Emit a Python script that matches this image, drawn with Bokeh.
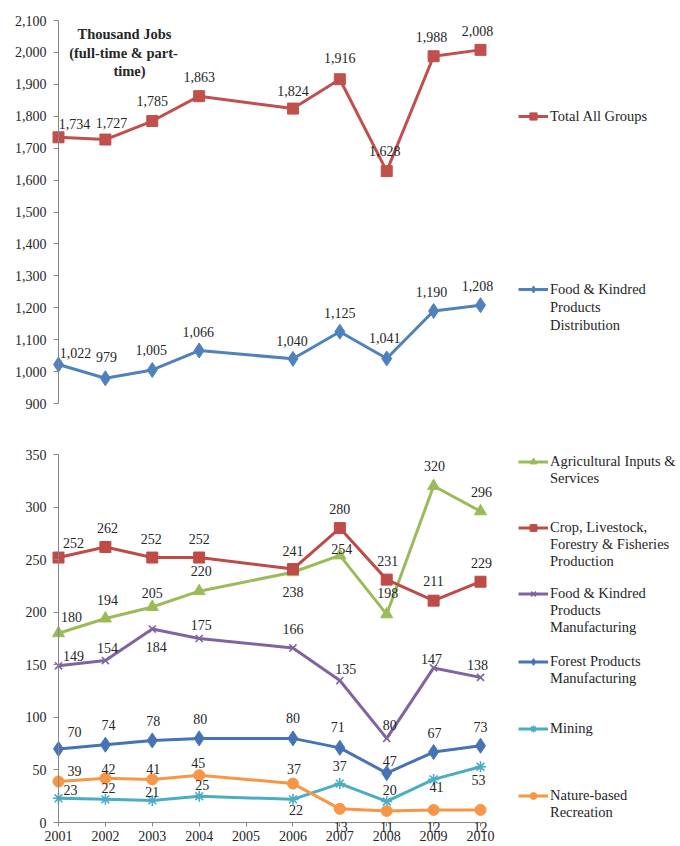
from bokeh.plotting import figure
from bokeh.models import (ColumnDataSource, LabelSet, Legend, LegendItem, Label,
                          FixedTicker, NumeralTickFormatter, Range1d)
from bokeh.layouts import column
from bokeh.embed import file_html
from bokeh.resources import INLINE

# ---------------- data ----------------
years = [2001, 2002, 2003, 2004, 2006, 2007, 2008, 2009, 2010]
x_ticks = [2001, 2002, 2003, 2004, 2005, 2006, 2007, 2008, 2009, 2010]

total_all = [1734, 1727, 1785, 1863, 1824, 1916, 1628, 1988, 2008]
food_dist = [1022, 979, 1005, 1066, 1040, 1125, 1041, 1190, 1208]

ag_inputs = [180, 194, 205, 220, 238, 254, 198, 320, 296]
crop_prod = [252, 262, 252, 252, 241, 280, 231, 211, 229]
food_mfg = [149, 154, 184, 175, 166, 135, 80, 147, 138]
forest_mfg = [70, 74, 78, 80, 80, 71, 47, 67, 73]
mining = [23, 22, 21, 25, 22, 37, 20, 41, 53]
nature_rec = [39, 42, 41, 45, 37, 13, 11, 12, 12]

top_ticks = list(range(900, 2101, 100))
bottom_ticks = list(range(0, 351, 50))

unit_note = ["Thousand Jobs", "(full-time & part-", "time)"]

# data-label placement (screen px offsets from the point, +y = up)
total_dx = [16, 6, 0, 0, 0, 0, -2, -2, -3]
total_dy = [13, 17, 20, 19, 18, 21, 20, 19, 19]
fdist_dx = [17, 1, -1, -1, -1, 0, -2, -2, -3]
fdist_dy = [12, 21, 20, 19, 18, 19, 20, 19, 19]
ag_dx = [13, 2, 0, 2, 0, 2, 1, 1, 1]
ag_dy = [16, 19, 14, 20, -20, 6, 21, 20, 19]
crop_dx = [15, 2, -1, 0, 0, 0, 1, 0, 1]
crop_dy = [15, 19, 19, 19, 18, 19, 19, 20, 19]
fmfg_dx = [15, 2, 4, 2, 0, 6, 3, -2, -3]
fmfg_dy = [10, 13, -18, 14, 19, 12, 13, 9, 12]
forest_dx = [16, 3, 1, 1, 0, -2, 3, 1, 0]
forest_dy = [17, 20, 19, 19, 20, 21, 12, 19, 19]
mining_dx = [12, 3, 0, 3, 3, 0, 3, 3, -2]
mining_dy = [8, 11, 8, 11, -11, 18, 11, -8, -13]
nature_dx = [16, 3, 1, -1, 1, 1, 0, 0, 0]
nature_dy = [10, 9, 10, 12, 15, -18, -16, -17, -17]

SERIF = "Liberation Serif"
TEXT_COL = "#262626"
AXIS_COL = "#868686"

# ---------------- layout geometry (pixels) ----------------
W = 680
X_PIX_FIRST, X_PIX_LAST = 58, 480          # pixel of 2001 and 2010
LEGEND_X = 518
px_per_year = (X_PIX_LAST - X_PIX_FIRST) / (2010 - 2001)
x_start = 2001 - X_PIX_FIRST / px_per_year
x_end = 2001 + (W - X_PIX_FIRST) / px_per_year


def style_axis(ax):
    ax.axis_line_color = AXIS_COL
    ax.major_tick_line_color = AXIS_COL
    ax.minor_tick_line_color = None
    ax.major_tick_in = 0
    ax.major_tick_out = 5
    ax.major_label_text_font = SERIF
    ax.major_label_text_font_size = "14px"
    ax.major_label_text_color = TEXT_COL


def make_fig(page_top, height, v_top, pix_top, v_bot, pix_bot, ticks, show_x):
    # frame covers the whole figure; axes are placed at fixed locations
    ppu = (pix_bot - pix_top) / (v_top - v_bot)
    y_hi = v_top + (pix_top - page_top) / ppu
    y_lo = v_bot - (page_top + height - pix_bot) / ppu
    p = figure(width=W, height=height, output_backend="svg", toolbar_location=None,
               x_range=Range1d(x_start, x_end), y_range=Range1d(y_lo, y_hi),
               x_axis_location="below" if show_x else None,
               min_border=0, min_border_left=0, min_border_right=0,
               min_border_top=0, min_border_bottom=0)
    p.outline_line_color = None
    p.xgrid.visible = False
    p.ygrid.visible = False
    p.background_fill_color = "white"
    p.border_fill_color = "white"
    p.yaxis.fixed_location = 2001
    p.yaxis.bounds = (v_bot, v_top)
    p.yaxis.ticker = FixedTicker(ticks=ticks)
    p.yaxis.formatter = NumeralTickFormatter(format="0,0")
    p.yaxis.major_label_standoff = 7
    style_axis(p.yaxis[0])
    if show_x:
        p.xaxis.fixed_location = v_bot
        p.xaxis.ticker = FixedTicker(ticks=x_ticks)
        p.xaxis.bounds = (2001, 2010)
        p.xaxis.major_label_standoff = 4
        style_axis(p.xaxis[0])
        p.xaxis.major_tick_out = 4
    return p


def add_series(p, vals, dx, dy, color, marker, size, fill=True):
    src = ColumnDataSource(dict(x=years, y=vals, lbl=[f"{v:,}" for v in vals], dx=dx, dy=dy))
    ln = p.line("x", "y", source=src, line_color=color, line_width=3)
    sc = p.scatter("x", "y", source=src, marker=marker, size=size,
                   fill_color=color if fill else None, line_color=color,
                   line_width=1 if fill else 1.6)
    ls = LabelSet(x="x", y="y", text="lbl", source=src, x_offset="dx", y_offset="dy",
                  text_align="center", text_baseline="middle", text_font=SERIF,
                  text_font_size="14px", text_color=TEXT_COL)
    p.add_layout(ls)
    return [ln, sc]


def add_legend(p, page_top, height, lines, renderers, first_line_y, row_h):
    items = [LegendItem(label=lines[0], renderers=renderers)]
    items += [LegendItem(label=t, renderers=[]) for t in lines[1:]]
    n = len(lines)
    bottom = first_line_y - row_h / 2 + n * row_h
    leg = Legend(items=items, location=(LEGEND_X, page_top + height - bottom),
                 orientation="vertical", border_line_color=None, background_fill_alpha=0,
                 padding=0, margin=0, spacing=0, glyph_width=30, glyph_height=row_h,
                 label_height=row_h, label_standoff=2, label_text_font=SERIF,
                 label_text_font_size="14.5px", label_text_color=TEXT_COL,
                 label_text_baseline="middle")
    p.add_layout(leg)


# ---------------- top panel ----------------
TOP_Y0, TOP_H = 0, 430
p1 = make_fig(TOP_Y0, TOP_H, 2100, 20, 900, 403, top_ticks, False)
r_total = add_series(p1, total_all, total_dx, total_dy, "#C0504D", "square", 11)
r_fdist = add_series(p1, food_dist, fdist_dx, fdist_dy, "#4F81BD", "diamond", 15)
for txt, cx, cy in zip(unit_note, [124, 123, 129], [33, 52, 70]):
    p1.add_layout(Label(x=cx, y=TOP_Y0 + TOP_H - cy, x_units="screen", y_units="screen",
                        text=txt, text_align="center", text_baseline="middle",
                        text_font=SERIF, text_font_style="bold", text_font_size="14.5px",
                        text_color=TEXT_COL))
add_legend(p1, TOP_Y0, TOP_H, ["Total All Groups"], r_total, 116, 18)
add_legend(p1, TOP_Y0, TOP_H, ["Food & Kindred", "Products", "Distribution"], r_fdist, 289, 18)

# ---------------- bottom panel ----------------
BOT_Y0, BOT_H = 430, 416
p2 = make_fig(BOT_Y0, BOT_H, 350, 454, 0, 822, bottom_ticks, True)
r_ag = add_series(p2, ag_inputs, ag_dx, ag_dy, "#9BBB59", "triangle", 12)
r_crop = add_series(p2, crop_prod, crop_dx, crop_dy, "#BE4B48", "square", 11)
r_fmfg = add_series(p2, food_mfg, fmfg_dx, fmfg_dy, "#8064A2", "x", 10, fill=False)
r_forest = add_series(p2, forest_mfg, forest_dx, forest_dy, "#4673B5", "diamond", 15)
r_mining = add_series(p2, mining, mining_dx, mining_dy, "#4BACC6", "asterisk", 11, fill=False)
r_nature = add_series(p2, nature_rec, nature_dx, nature_dy, "#F79646", "circle", 11)

add_legend(p2, BOT_Y0, BOT_H, ["Agricultural Inputs &", "Services"], r_ag, 461, 17)
add_legend(p2, BOT_Y0, BOT_H, ["Crop, Livestock,", "Forestry & Fisheries", "Production"], r_crop, 527, 17)
add_legend(p2, BOT_Y0, BOT_H, ["Food & Kindred", "Products", "Manufacturing"], r_fmfg, 593, 17)
add_legend(p2, BOT_Y0, BOT_H, ["Forest Products", "Manufacturing"], r_forest, 661, 17)
add_legend(p2, BOT_Y0, BOT_H, ["Mining"], r_mining, 728, 17)
add_legend(p2, BOT_Y0, BOT_H, ["Nature-based", "Recreation"], r_nature, 795, 17)

layout = column(p1, p2, spacing=0)
open("out.html", "w").write(file_html(layout, INLINE))
